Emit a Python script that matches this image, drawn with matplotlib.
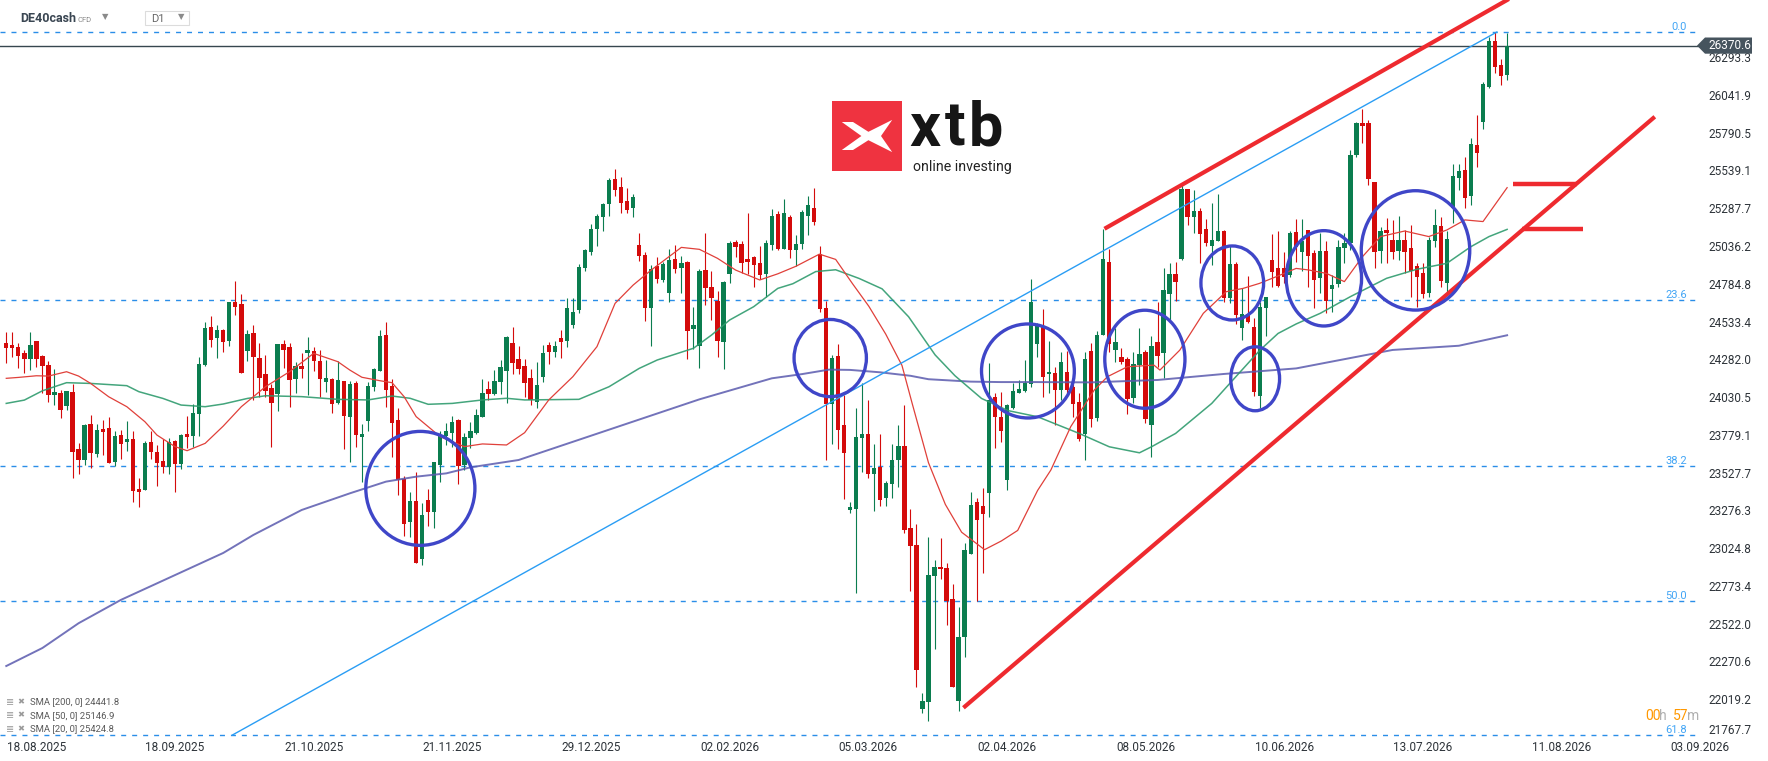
import matplotlib
matplotlib.use("Agg")
import matplotlib.pyplot as plt
from matplotlib.patches import Ellipse, Polygon, Rectangle
import numpy as np

plt.rcParams['font.family'] = ['Roboto', 'DejaVu Sans']

# ---- daily candles (DE40cash, D1) ----
opens = [24390, 24376, 24363, 24323, 24285, 24403, 24303, 24243, 24046, 24057,
         23972, 24063, 23684, 23613, 23850, 23653, 23817, 23824, 23599, 23777,
         23730, 23750, 23417, 23413, 23730, 23664, 23604, 23566, 23737, 23586,
         23784, 23773, 23919, 24243, 24496, 24425, 24476, 24405, 24663, 24650,
         24339, 24456, 24290, 24184, 24091, 24053, 24384, 24364, 24153, 24237,
         24326, 24337, 24270, 24133, 24153, 23993, 24137, 23900, 24124, 23766,
         23873, 24099, 24204, 24443, 24106, 23877, 23487, 23200, 23338, 22954,
         23345, 23266, 23580, 23773, 23793, 23877, 23580, 23760, 23793, 23900,
         24084, 24053, 24130, 24206, 24390, 24284, 24237, 24157, 23995, 24166,
         24377, 24332, 24424, 24406, 24512, 24610, 24892, 24998, 25152, 25232,
         25318, 25482, 25429, 25336, 25292, 25043, 24976, 24626, 24903, 24812,
         24725, 24950, 24892, 24930, 24486, 24372, 24876, 24763, 24670, 24400,
         24852, 25063, 25050, 24950, 24963, 24923, 24852, 25043, 25249, 25019,
         25230, 25007, 25047, 25234, 25290, 24982, 24623, 23982, 24306, 23841,
         23276, 23287, 23755, 23787, 23517, 23563, 23361, 23449, 23609, 23706,
         23160, 23047, 21956, 21996, 22836, 22898, 22893, 22683, 22007, 22435,
         22986, 23329, 23306, 23392, 24033, 23900, 23475, 23956, 24056, 24072,
         24115, 24385, 24499, 24181, 24190, 24077, 24199, 24097, 23999, 23786,
         24337, 23890, 24445, 24929, 24345, 24297, 24283, 24024, 24243, 24330,
         23846, 24397, 24325, 24718, 24849, 24951, 25415, 25231, 25269, 25149,
         25038, 25071, 25136, 24688, 24916, 24492, 24585, 24496, 24039, 24625,
         24943, 24889, 24889, 24840, 25130, 24999, 25141, 24990, 24821, 25003,
         24752, 24783, 25025, 25054, 25645, 25858, 25856, 25463, 25003, 25141,
         25076, 25003, 25076, 25023, 24903, 24857, 24721, 25072, 25170, 24790,
         25292, 25492, 25543, 25372, 25709, 25862, 26095, 26402, 26244, 26178]
highs = [24463, 24463, 24390, 24343, 24463, 24403, 24310, 24270, 24217, 24075,
         24070, 24117, 23724, 23850, 23910, 23850, 23877, 23897, 23804, 23810,
         23870, 23804, 23491, 23737, 23804, 23710, 23750, 23757, 23744, 23784,
         23904, 23984, 24297, 24530, 24570, 24510, 24483, 24665, 24803, 24716,
         24476, 24510, 24390, 24310, 24117, 24384, 24410, 24390, 24264, 24324,
         24430, 24364, 24344, 24277, 24159, 24270, 24137, 24137, 24137, 23853,
         24133, 24226, 24477, 24530, 24153, 23957, 23507, 23398, 23531, 23325,
         23418, 23600, 23806, 23860, 23906, 23884, 23793, 23864, 23953, 24153,
         24139, 24210, 24277, 24437, 24497, 24370, 24281, 24219, 24264, 24377,
         24399, 24406, 24477, 24692, 24692, 24916, 25018, 25183, 25249, 25325,
         25489, 25549, 25496, 25423, 25383, 25123, 24996, 24910, 24965, 24930,
         25016, 25043, 24970, 24937, 24632, 24883, 25123, 24870, 24739, 24803,
         25067, 25076, 25072, 25258, 24970, 25034, 25076, 25283, 25272, 25352,
         25241, 25109, 25278, 25371, 25422, 25035, 24669, 24311, 24385, 24044,
         23329, 23959, 24125, 24012, 23720, 23781, 23470, 23720, 23841, 23980,
         23287, 23188, 22060, 23100, 22945, 23091, 22924, 22783, 22635, 23061,
         23399, 23361, 23422, 24257, 24056, 24065, 23987, 24125, 24142, 24276,
         24818, 24525, 24618, 24403, 24232, 24332, 24337, 24130, 24059, 24332,
         24392, 24472, 25151, 25016, 24490, 24357, 24299, 24332, 24490, 24344,
         24436, 24663, 24889, 24923, 24929, 25442, 25418, 25409, 25289, 25218,
         25320, 25382, 25140, 25036, 24932, 24756, 24836, 24559, 24663, 24696,
         25118, 25136, 24998, 25135, 25216, 25216, 25141, 25010, 25123, 25070,
         24843, 25076, 25123, 25676, 25864, 25949, 25876, 25463, 25163, 25221,
         25210, 25236, 25143, 25176, 24921, 24921, 25099, 25281, 25232, 25134,
         25583, 25580, 25629, 25758, 25909, 26131, 26431, 26462, 26284, 26457]
lows = [24259, 24299, 24226, 24192, 24212, 24232, 24055, 23999, 23979, 23893,
        23946, 23493, 23520, 23580, 23560, 23633, 23646, 23593, 23573, 23619,
        23673, 23333, 23300, 23413, 23619, 23440, 23526, 23520, 23400, 23553,
        23693, 23699, 23773, 24239, 24363, 24292, 24332, 24372, 24579, 24192,
        24272, 24012, 24032, 24033, 23700, 23940, 24226, 23966, 24059, 24159,
        24044, 24206, 24031, 24066, 23926, 23986, 23686, 23600, 23700, 23467,
        23806, 24073, 24204, 23966, 23633, 23380, 23107, 23100, 22927, 22914,
        23174, 23160, 23467, 23713, 23700, 23453, 23547, 23693, 23786, 23900,
        24013, 24046, 24053, 23993, 24186, 24186, 24033, 23980, 23960, 24133,
        24248, 24299, 24293, 24366, 24490, 24592, 24872, 24974, 25038, 25138,
        25238, 25371, 25258, 25258, 25232, 24939, 24539, 24372, 24792, 24799,
        24665, 24859, 24725, 24286, 24352, 24226, 24641, 24546, 24299, 24219,
        24790, 24965, 24859, 24852, 24765, 24819, 24699, 25010, 25010, 25014,
        24954, 24901, 25014, 25107, 25174, 24595, 23609, 23720, 23686, 23350,
        23255, 22723, 23533, 23493, 23269, 23304, 23306, 23359, 23431, 23125,
        22741, 22100, 21926, 21873, 22354, 22817, 22510, 22100, 21938, 22297,
        22986, 22672, 22857, 23230, 23690, 23732, 23408, 23952, 24056, 24061,
        24095, 24299, 24032, 24055, 23841, 24010, 24059, 23895, 23739, 23608,
        23833, 23873, 24445, 24332, 24265, 24250, 23919, 23988, 24110, 23855,
        23628, 24232, 24154, 24532, 24670, 24943, 25178, 25122, 24925, 25038,
        24909, 25071, 24665, 24658, 24516, 24410, 24521, 24039, 23959, 24436,
        24765, 24765, 24787, 24830, 24928, 24872, 24766, 24626, 24721, 24588,
        24599, 24766, 24921, 25010, 25631, 25720, 25443, 24888, 24921, 24921,
        24948, 24943, 24854, 24699, 24632, 24688, 24699, 25032, 24766, 24726,
        25187, 25409, 25292, 25309, 25565, 25818, 26091, 26191, 26111, 26142]
closes = [24359, 24359, 24305, 24285, 24376, 24285, 24239, 24046, 24063, 23946,
          24070, 23666, 23613, 23844, 23659, 23810, 23797, 23593, 23770, 23719,
          23750, 23406, 23400, 23724, 23666, 23593, 23566, 23730, 23586, 23777,
          23766, 23924, 24250, 24490, 24412, 24476, 24399, 24665, 24632, 24192,
          24450, 24299, 24159, 24073, 23993, 24384, 24346, 24146, 24237, 24219,
          24344, 24273, 24153, 24159, 23986, 24144, 23906, 24117, 23780, 23786,
          24106, 24219, 24437, 24079, 23860, 23480, 23187, 23338, 22927, 23245,
          23262, 23600, 23773, 23804, 23864, 23573, 23766, 23804, 23911, 24059,
          24053, 24137, 24230, 24430, 24259, 24219, 24126, 24011, 24108, 24326,
          24332, 24370, 24399, 24626, 24597, 24896, 25010, 25149, 25236, 25316,
          25476, 25411, 25325, 25276, 25363, 24972, 24626, 24883, 24819, 24916,
          24945, 24885, 24923, 24470, 24512, 24870, 24759, 24692, 24406, 24796,
          25056, 25032, 24925, 24932, 24912, 24841, 25056, 25236, 25014, 25257,
          25007, 25051, 25264, 25311, 25195, 24614, 23987, 24292, 23813, 23655,
          23299, 23767, 23787, 23517, 23561, 23343, 23461, 23614, 23706, 23144,
          23037, 22211, 22003, 22848, 22898, 22882, 22674, 22100, 22435, 23014,
          23313, 23209, 23253, 24010, 23896, 23801, 23977, 24070, 24086, 24125,
          24665, 24505, 24166, 24199, 24077, 24263, 24077, 23986, 23748, 24283,
          23881, 24445, 24949, 24385, 24396, 24263, 24019, 24250, 24317, 23886,
          24370, 24305, 24743, 24849, 24798, 25415, 25231, 25269, 25118, 25058,
          25076, 25136, 24692, 24916, 24579, 24585, 24532, 24066, 24630, 24696,
          24865, 24772, 24832, 25120, 25028, 25072, 24970, 24812, 25003, 24672,
          24774, 25030, 25054, 25642, 25858, 25836, 25485, 24999, 25136, 25125,
          24999, 25076, 24999, 24870, 24830, 24715, 25076, 25176, 24806, 25083,
          25503, 25538, 25356, 25716, 25658, 26115, 26404, 26231, 26166, 26370.6]

# ---- moving averages, sampled along the drawn curves ----
sma200_idx = [0, 6, 12, 19, 36, 41, 49, 57, 63, 68, 73, 77, 85, 115, 127, 132, 136.5, 140,
              145, 150, 153, 160, 165, 171, 180, 191, 202, 214, 230, 241, 249]
sma200_val = [22239, 22359, 22524, 22679, 22992, 23112, 23278, 23389, 23467, 23500, 23522,
              23562, 23611, 24015, 24155, 24183, 24213, 24211, 24195, 24172, 24149, 24133,
              24130, 24130, 24128, 24144, 24184, 24221, 24344, 24372, 24441.8]
sma50_idx = [0, 3, 6, 10, 14, 20, 22, 26, 29, 33, 36, 40, 43, 49, 55, 60, 64, 67, 70, 74,
             79, 83, 86, 95, 100, 105, 108, 114, 117, 120, 124, 128, 130.5, 134.3, 137.6,
             141.5, 145.3, 149.7, 154.1, 157.4, 161.8, 166.2, 171.1, 178, 183, 188, 190,
             194, 200, 204, 208, 211, 214, 218, 223, 229, 234, 239, 243, 246, 249]
sma50_val = [23988, 24010, 24072, 24126, 24121, 24106, 24066, 24021, 23977, 23966, 23984,
             24021, 24039, 24033, 24015, 24011, 24037, 24022, 23982, 23988, 24011, 24022,
             24011, 24015, 24099, 24221, 24277, 24355, 24443, 24543, 24632, 24754, 24785,
             24866, 24878, 24820, 24751, 24565, 24311, 24172, 24021, 23940, 23899, 23788,
             23699, 23659, 23699, 23788, 23988, 24166, 24343, 24454, 24517, 24588, 24699,
             24821, 24881, 24921, 25032, 25099, 25146.9]
sma20_idx = [0, 2, 5, 7, 10, 12, 14, 17, 20, 23, 25, 28, 30, 33, 36, 39, 43, 47, 51, 55,
             57, 59, 62, 64, 66, 68, 72, 76, 79, 83, 86, 90, 94, 98, 101, 104, 107, 112,
             115, 118, 121, 125, 128, 131, 134.9, 137.6, 140.4, 143.1, 145.9, 148.6, 150.3,
             153, 155.8, 158.5, 162.3, 165.1, 167.8, 171.1, 173.3, 176.6, 180.5, 182.7,
             186, 190.4, 191.4, 194.7, 198.6, 202.4, 205.2, 207.9, 210.7, 214, 216, 219,
             222, 225, 228, 232, 236, 239, 242, 245, 249]
sma20_val = [24155, 24161, 24172, 24170, 24199, 24170, 24121, 24032, 23966, 23866, 23777,
             23700, 23673, 23722, 23837, 23966, 24099, 24199, 24321, 24266, 24210, 24162,
             24139, 24126, 24033, 23900, 23766, 23700, 23718, 23711, 23793, 24011, 24166,
             24366, 24654, 24776, 24876, 25027, 25014, 24954, 24876, 24810, 24851, 24901,
             24982, 24947, 24785, 24635, 24450, 24241, 23987, 23593, 23315, 23130, 23014,
             23072, 23142, 23408, 23544, 23833, 24077, 24166, 24232, 24243, 24210, 24343,
             24588, 24732, 24754, 24787, 24832, 24887, 24877, 24854, 24799, 24965, 25099,
             25136, 25099, 25143, 25210, 25199, 25424.8]

# ---- Fibonacci retracement ----
fib_high = 26461.5
fib_low = 18886.5
fib_ratios = [0.0, 0.236, 0.382, 0.5, 0.618]
fib_labels = ['0.0', '23.6', '38.2', '50.0', '61.8']

last_price = 26370.6
price_ticks = [26293.3, 26041.9, 25790.5, 25539.1, 25287.7, 25036.2, 24784.8, 24533.4,
               24282.0, 24030.5, 23779.1, 23527.7, 23276.3, 23024.8, 22773.4, 22522.0,
               22270.6, 22019.2, 21767.7]
date_idx = [5, 28, 51, 74, 97, 120, 143, 166, 189, 212, 235, 258, 281]
date_labels = ['18.08.2025', '18.09.2025', '21.10.2025', '21.11.2025', '29.12.2025',
               '02.02.2026', '05.03.2026', '02.04.2026', '08.05.2026', '10.06.2026',
               '13.07.2026', '11.08.2026', '03.09.2026']
legend_lines = ['SMA [200, 0] 24441.8', 'SMA [50, 0] 25146.9', 'SMA [20, 0] 25424.8']

# drawings on the chart (candle index, price)
upper_channel = [(182.2, 25151), (252.7, 26759)]
lower_channel = [(158.8, 21961), (273.5, 25897)]
blue_trend = [(37.5, 21779), (247.3, 26461.5)]
marker_levels = [((250.0, 260.6), 25449), ((251.5, 261.6), 25149)]
circles = [(68.7, 23422, 18.1, 759), (136.7, 24290, 12.0, 514), (169.5, 24204, 15.4, 626),
           (188.9, 24282, 13.3, 653), (203.4, 24790, 10.4, 493), (207.2, 24152, 8.1, 426),
           (218.6, 24821, 12.5, 635), (233.8, 25007, 18.0, 795)]

W, H = 1768, 761
fig = plt.figure(figsize=(W / 100, H / 100), dpi=100)
ax = fig.add_axes([0, 1 - 739 / H, 1700 / W, 739 / H])
ax.set_xlim(-1.04, 279.0)
ax.set_ylim(21752.9, 26674.6)


def fx(px):
    return px / W


def fy(py):
    return 1 - py / H


GREEN = '#0b7d4f'
RED = '#d40b0b'

o = np.array(opens, dtype=float)
c = np.array(closes, dtype=float)
hi = np.array(highs, dtype=float)
lo = np.array(lows, dtype=float)
idx = np.arange(len(o))
cols = np.where(c >= o, GREEN, RED)

ax.vlines(idx, lo, hi, colors=cols, lw=0.8, zorder=2)
body_bottom = np.minimum(o, c)
body_h = np.maximum(np.abs(c - o), 7)
ax.bar(idx, body_h, bottom=body_bottom, width=0.72, color=cols, linewidth=0, zorder=2)

# moving averages
ax.plot(sma200_idx, sma200_val, color='#5a5aae', lw=1.4, alpha=0.85, zorder=3)
ax.plot(sma50_idx, sma50_val, color='#2f9b6e', lw=1.1, alpha=0.9, zorder=3)
ax.plot(sma20_idx, sma20_val, color='#e0403a', lw=0.9, zorder=3)

# fibonacci levels
for r, lab in zip(fib_ratios, fib_labels):
    lvl = fib_high - r * (fib_high - fib_low)
    ax.axhline(lvl, color='#2a8ee8', lw=1.0, dashes=(3.6, 4.3), zorder=1)
    ax.text(278.8, lvl, lab, color='#42a5f5', fontsize=8, ha='right', va='bottom',
            zorder=4)

# last price line
ax.axhline(last_price, color='#37474f', lw=1.0, zorder=1)

# trend lines
ax.plot(*zip(*blue_trend), color='#2a9df4', lw=1.0, zorder=4)
ax.plot(*zip(*upper_channel), color='#ee2a2f', lw=3.0, solid_capstyle='butt', zorder=5)
ax.plot(*zip(*lower_channel), color='#ee2a2f', lw=3.0, solid_capstyle='butt', zorder=5)
for (x0, x1), lvl in marker_levels:
    ax.plot([x0, x1], [lvl, lvl], color='#ee2a2f', lw=3.2, solid_capstyle='butt', zorder=5)

for cx, cy, w, h in circles:
    ax.add_patch(Ellipse((cx, cy), w, h, fill=False, ec='#3f46c8', lw=2.4, zorder=6))

# axes styling
for s in ax.spines.values():
    s.set_visible(False)
ax.yaxis.tick_right()
ax.set_yticks(price_ticks[:-1])
ax.set_yticklabels([f'{v:.1f}' for v in price_ticks[:-1]])
ax.tick_params(axis='y', length=0, pad=5.8, labelsize=8.5, labelcolor='#2d3339')
ax.set_xticks(date_idx)
ax.set_xticklabels(date_labels)
ax.tick_params(axis='x', length=0, pad=1.5, labelsize=8.5, labelcolor='#2d3339')
# the lowest price label sits a little higher so it clears the date row
fig.text(fx(1708), fy(731), f'{price_ticks[-1]:.1f}', fontsize=8.5, color='#2d3339',
         va='center', ha='left')

# last price tag
tag_y = fy(45.6)
tag = Polygon([(fx(1697), tag_y), (fx(1705), fy(37.5)), (fx(1752), fy(37.5)),
               (fx(1752), fy(53.7)), (fx(1705), fy(53.7))], closed=True,
              transform=fig.transFigure, fc='#46545e', ec='none', zorder=5)
fig.add_artist(tag)
fig.text(fx(1708), tag_y, f'{last_price:.1f}', color='white', fontsize=8.5,
         va='center', ha='left', zorder=6)

# header
fig.text(fx(20), fy(18.5), 'DE40cash', fontsize=9, fontweight='bold', color='#3a4652',
         va='center')
fig.text(fx(78), fy(19.5), 'CFD', fontsize=5.5, color='#8a8a8a', va='center')
fig.text(fx(105), fy(17), '▼', fontsize=6, color='#8a8a8a', va='center', ha='center')
fig.add_artist(Rectangle((fx(145), fy(25.3)), fx(44), 14.6 / H, transform=fig.transFigure,
                         fill=False, ec='#dcdcdc', lw=0.8))
fig.text(fx(151), fy(19), 'D1', fontsize=8, color='#666666', va='center')
fig.text(fx(181), fy(17), '▼', fontsize=6, color='#8a8a8a', va='center', ha='center')

# logo
lx, ly, ls = 832, 101, 70
fig.add_artist(Rectangle((fx(lx), fy(ly + ls)), fx(ls), ls / H, transform=fig.transFigure,
                         fc='#ef3340', ec='none'))
mark = [(0.14, 0.30), (0.30, 0.30), (0.52, 0.44), (0.86, 0.27), (0.70, 0.50), (0.86, 0.73),
        (0.52, 0.56), (0.30, 0.70), (0.14, 0.70), (0.42, 0.50)]
fig.add_artist(Polygon([(fx(lx + ls * a), fy(ly + ls * b)) for a, b in mark], closed=True,
                       transform=fig.transFigure, fc='white', ec='none'))
for lxp, ch in [(909, 'x'), (945, 't'), (969, 'b')]:
    fig.text(fx(lxp), fy(146), ch, fontsize=44, fontweight='bold', color='#161616',
             va='baseline', ha='left')
fig.text(fx(913), fy(160), 'online investing', fontsize=10.2, color='#222222',
         va='top', ha='left')

# indicator legend
for k, txt in enumerate(legend_lines):
    yy = fy(702 + 13.5 * k)
    fig.text(fx(6), yy, '≣', fontsize=7, color='#9a9a9a', va='center')
    fig.text(fx(17), yy, '✖', fontsize=6, color='#9a9a9a', va='center')
    fig.text(fx(30), yy, txt, fontsize=6.8, color='#5a5a5a', va='center')

# candle timer
for x0, txt, col in [(1645, '00', '#ff9800'), (1659.5, 'h', '#b0b0b0'),
                     (1672.5, '57', '#ff9800'), (1687.3, 'm', '#b0b0b0')]:
    fig.text(fx(x0), fy(716), txt, fontsize=10, color=col, va='center', ha='left')

fig.savefig('out.png', dpi=100)
